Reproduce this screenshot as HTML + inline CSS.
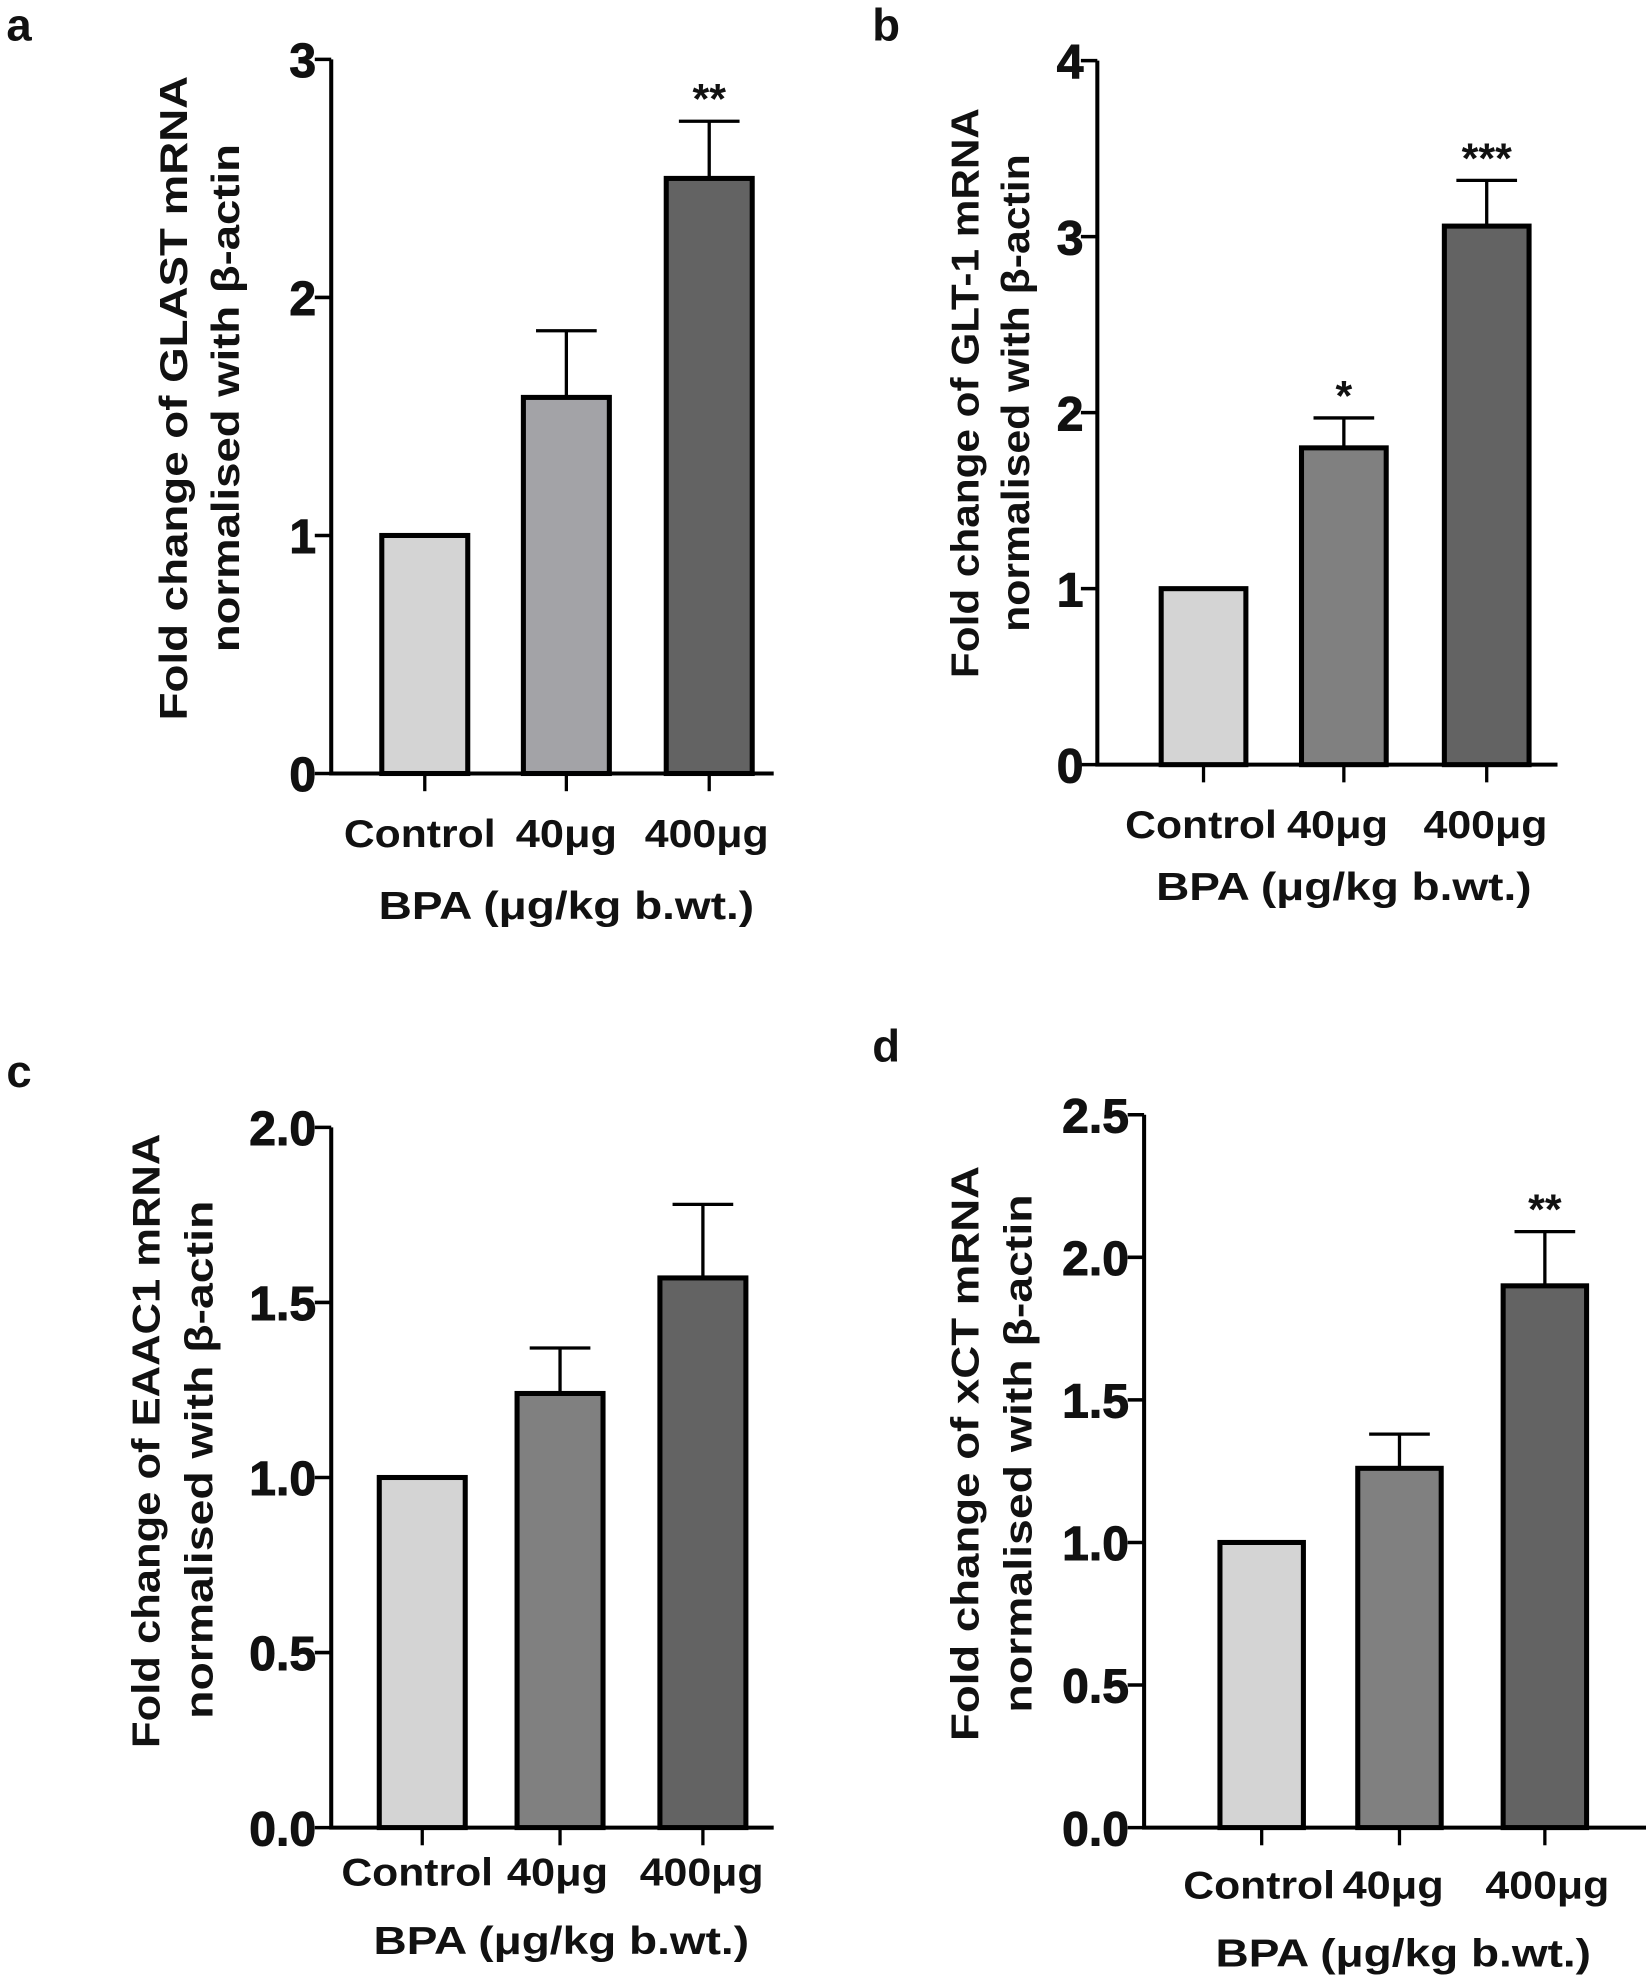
<!DOCTYPE html>
<html><head><meta charset="utf-8"><style>
html,body{margin:0;padding:0;background:#fff;}
svg{display:block;}
text{font-family:"Liberation Sans",Arial,sans-serif;font-weight:bold;fill:#111;}
</style></head><body>
<svg id="chart" width="1646" height="1978" viewBox="0 0 1302 1565" preserveAspectRatio="none" xmlns="http://www.w3.org/2000/svg"></svg>
<script>
const categories = ["Control", "40μg", "400μg"];
const valuesA = [1.0, 1.58, 2.5];
const errorsA = [1.0, 1.86, 2.74];
const starsA = ["", "", "**"];
const ticksA = ["0", "1", "2", "3"];
const valuesB = [1.0, 1.8, 3.06];
const errorsB = [1.0, 1.97, 3.32];
const starsB = ["", "*", "***"];
const ticksB = ["0", "1", "2", "3", "4"];
const valuesC = [1.0, 1.24, 1.57];
const errorsC = [1.0, 1.37, 1.78];
const starsC = ["", "", ""];
const ticksC = ["0.0", "0.5", "1.0", "1.5", "2.0"];
const valuesD = [1.0, 1.26, 1.9];
const errorsD = [1.0, 1.38, 2.09];
const starsD = ["", "", "**"];
const ticksD = ["0.0", "0.5", "1.0", "1.5", "2.0", "2.5"];

const NS = "http://www.w3.org/2000/svg";
const svg = document.getElementById('chart');
function mk(tag, attrs, parent, txt) {
  const e = document.createElementNS(NS, tag);
  for (const k in attrs) e.setAttribute(k, attrs[k]);
  if (txt !== undefined) e.textContent = txt;
  parent.appendChild(e);
  return e;
}
const catLen = [120, 80, 98];
const panels = [
  {id:'a', vals:valuesA, errs:errorsA, stars:starsA, ticks:ticksA, ax:262, y0:612, yTop:47, xEnd:612, centers:[336,448,561], bw:72,
   colors:['#d4d4d4','#a3a3a7','#636363'], label:[5,32], t1:[137,315,510], t2:[178,315,402], gene:'GLAST', catX:[332,448,559], catY:670, titleX:448, titleY:727, tickX:250},
  {id:'b', vals:valuesB, errs:errorsB, stars:starsB, ticks:ticksB, ax:868, y0:605, yTop:48, xEnd:1232, centers:[952,1063,1176], bw:71,
   colors:['#d4d4d4','#808080','#636363'], label:[690,32], t1:[763,311,451], t2:[803,311,378], gene:'GLT-1', catX:[950,1058,1175], catY:663, titleX:1063, titleY:712, tickX:857},
  {id:'c', vals:valuesC, errs:errorsC, stars:starsC, ticks:ticksC, ax:262, y0:1446, yTop:892, xEnd:612, centers:[334,443,556], bw:72,
   colors:['#d4d4d4','#808080','#636363'], label:[5,860], t1:[115,1140,486], t2:[157,1155,410], gene:'EAAC1', catX:[330,441,555], catY:1492, titleX:444, titleY:1546, tickX:250},
  {id:'d', vals:valuesD, errs:errorsD, stars:starsD, ticks:ticksD, ax:905, y0:1446, yTop:882, xEnd:1302, centers:[998,1107,1222], bw:70,
   colors:['#d4d4d4','#808080','#636363'], label:[690,840], t1:[763,1150,455], t2:[805,1150,410], gene:'xCT', catX:[996,1102,1224], catY:1502, titleX:1110, titleY:1556, tickX:893}
];
panels.forEach(p => {
  const g = mk('g', {}, svg);
  
  
  const maxV = parseFloat(p.ticks[p.ticks.length - 1]);
  const y = v => p.y0 - (v / maxV) * (p.y0 - p.yTop);
  const lab = mk('text', {x:p.label[0], y:p.label[1], 'font-size':36}, g, p.id);
  
  
  p.vals.forEach((v, i) => {
    const cx = p.centers[i];
    const bar = mk('rect', {x:cx - p.bw/2 + 2, y:y(v), width:p.bw - 4, height:p.y0 - y(v), fill:p.colors[i], stroke:'#000', 'stroke-width':4}, g);
    
    
    if (p.errs[i] > v) {
      const eb = mk('path', {d:`M${cx},${y(v)} V${y(p.errs[i])} M${cx-24},${y(p.errs[i])} H${cx+24}`, stroke:'#000', 'stroke-width':2.6, fill:'none'}, g);
      
      
    }
    if (p.stars[i]) {
      const st = mk('text', {x:cx, y:y(p.errs[i]) - 6, 'font-size':34, 'text-anchor':'middle'}, g, p.stars[i]);
      
      
    }
    const tk = mk('line', {x1:cx, x2:cx, y1:p.y0, y2:p.y0 + 14, stroke:'#000', 'stroke-width':2.6}, g);
    
    
    const cl = mk('text', {x:p.catX[i], y:p.catY, 'font-size':31, 'text-anchor':'middle', textLength:catLen[i], lengthAdjust:'spacingAndGlyphs'}, g, categories[i]);
    
    
  });
  const axes = mk('path', {d:`M${p.ax},${p.yTop} V${p.y0} H${p.xEnd}`, stroke:'#000', 'stroke-width':3.2, fill:'none'}, g);
  
  
  p.ticks.forEach(t => {
    const ty = y(parseFloat(t));
    const tl = mk('line', {x1:p.ax - 13, x2:p.ax, y1:ty, y2:ty, stroke:'#000', 'stroke-width':2.8}, g);
    
    
    const tt = mk('text', {x:p.tickX, y:ty + 14, 'font-size':38, 'text-anchor':'end', stroke:'#111', 'stroke-width':0.8}, g, t);
    
    
  });
  const xt = mk('text', {x:p.titleX, y:p.titleY, 'font-size':31, 'text-anchor':'middle', textLength:297, lengthAdjust:'spacingAndGlyphs'}, g, 'BPA (μg/kg b.wt.)');
  
  
  const y1 = mk('text', {x:0, y:0, 'font-size':31, 'text-anchor':'middle', textLength:p.t1[2], lengthAdjust:'spacingAndGlyphs', transform:`translate(${p.t1[0]+11},${p.t1[1]}) rotate(-90)`}, g, 'Fold change of ' + p.gene + ' mRNA');
  
  
  const y2 = mk('text', {x:0, y:0, 'font-size':31, 'text-anchor':'middle', textLength:p.t2[2], lengthAdjust:'spacingAndGlyphs', transform:`translate(${p.t2[0]+11},${p.t2[1]}) rotate(-90)`}, g, 'normalised with β-actin');
  
  
});
</script>
</body></html>
